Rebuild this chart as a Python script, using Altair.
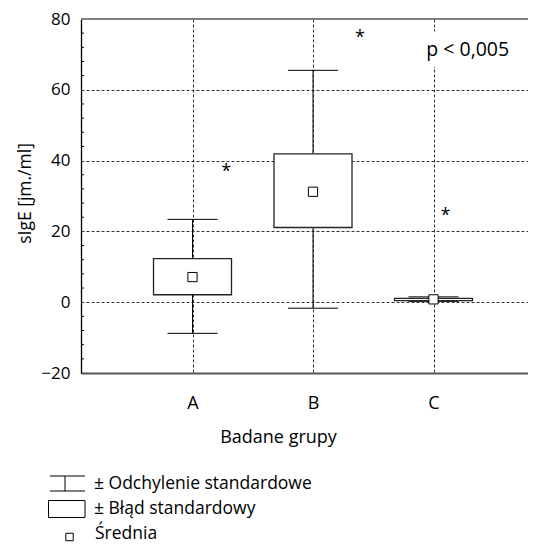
import altair as alt
import pandas as pd

# ---- data ----
groups = ["A", "B", "C"]
group_pos = [1, 2, 3]
mean = [7.1, 31.2, 0.8]
se_low = [2.1, 21.1, 0.45]
se_high = [12.3, 41.9, 1.1]
sd_low = [-8.8, -1.7, 0.25]
sd_high = [23.4, 65.5, 1.5]

star_x = [1.28, 2.39, 3.10]
star_y = [37.9, 75.8, 25.5]

y_ticks = [-20, 0, 20, 40, 60, 80]
y_minor = [v for v in range(-20, 81, 4) if v % 20 != 0]

p_text = "p < 0,005"
p_x, p_y = 2.94, 71.3

legend_labels = ["± Odchylenie standardowe", "± Błąd standardowy", "Średnia"]

# ---- layout constants ----
W, H = 447, 354
PX_GROUP = 120.5
x_min = 1 - 111.5 / PX_GROUP
x_max = x_min + W / PX_GROUP
CAP_HALF = 25 / PX_GROUP
BOX_HALF = 39 / PX_GROUP
FONT = "Open Sans"
FS = 18
LFS = 17.5

df = pd.DataFrame({
    "group": groups, "pos": group_pos, "mean": mean,
    "se_low": se_low, "se_high": se_high, "sd_low": sd_low, "sd_high": sd_high,
})
stars = pd.DataFrame({"x": star_x, "y": star_y})
minor = pd.DataFrame({"v": y_minor})
one = alt.Data(values=[{"k": 0}])

xs = alt.Scale(domain=[x_min, x_max], nice=False, zero=False)
ys = alt.Scale(domain=[-20, 80], nice=False, zero=False)

label_expr = "[" + ",".join("'%s'" % g for g in groups) + "][datum.value - 1]"

XAX = alt.Axis(
    values=group_pos, labelExpr=label_expr, grid=True, gridDash=[3, 2],
    gridColor="#333", gridWidth=1, ticks=False, labelPadding=21,
    labelFontSize=FS, labelFont=FONT, labelColor="black",
    domainColor="#555", domainWidth=2, title="Badane grupy",
    titleFont=FONT, titleFontSize=FS, titleFontWeight="normal", titleColor="black",
    titleX=197, titleY=64, titleAlign="center", titleBaseline="middle")
YAX = alt.Axis(
    values=y_ticks, grid=True, gridDash=[3, 2], gridColor="#333", gridWidth=1,
    ticks=False, labelPadding=11, labelFontSize=17, labelFont=FONT,
    labelColor="black", domainColor="black", domainWidth=1.3,
    title="sIgE [jm./ml]", titleFont=FONT, titleFontSize=17.5,
    titleFontWeight="normal", titleColor="black", titleX=-56, titleY=174,
    titleAngle=270, titleAlign="center", titleBaseline="middle")


def X(field):
    return alt.X(field, scale=xs, axis=XAX)


def Y(field):
    return alt.Y(field, scale=ys, axis=YAX)


base = alt.Chart(df).transform_calculate(
    cap_l=f"datum.pos - {CAP_HALF}", cap_r=f"datum.pos + {CAP_HALF}",
    box_l=f"datum.pos - {BOX_HALF}", box_r=f"datum.pos + {BOX_HALF}",
)

whisker = base.mark_rule(color="black", strokeWidth=1).encode(
    x=X("pos:Q"), y=Y("sd_low:Q"), y2="sd_high:Q")

cap_lo = base.mark_rule(color="black", strokeWidth=1).encode(
    x=X("cap_l:Q"), x2="cap_r:Q", y=Y("sd_low:Q"))
cap_hi = base.mark_rule(color="black", strokeWidth=1).encode(
    x=X("cap_l:Q"), x2="cap_r:Q", y=Y("sd_high:Q"))

box = base.mark_rect(fill="white", stroke="#222", strokeWidth=1.3).encode(
    x=X("box_l:Q"), x2="box_r:Q", y=Y("se_low:Q"), y2="se_high:Q")

means = base.mark_square(size=85, fill="white", stroke="black", strokeWidth=1, opacity=1).encode(
    x=X("pos:Q"), y=Y("mean:Q"))

minor_ticks = alt.Chart(minor).mark_rule(color="black", strokeWidth=1).encode(
    x=alt.value(0), x2=alt.value(3), y=Y("v:Q"))

star_marks = alt.Chart(stars).mark_text(text="*", font=FONT, fontSize=FS, color="black",
                                        baseline="middle", dy=4).encode(
    x=X("x:Q"), y=Y("y:Q"))

p_bg = alt.Chart(one).mark_rect(fill="white").encode(
    x=alt.X(datum=p_x - 0.05, scale=xs, axis=XAX), x2=alt.X2(datum=p_x + 0.82),
    y=alt.Y(datum=p_y - 4.8, scale=ys, axis=YAX), y2=alt.Y2(datum=p_y + 5.2))
p_label = alt.Chart(one).mark_text(text=p_text, font=FONT, fontSize=19.5, color="black",
                                   align="left", baseline="middle").encode(
    x=alt.X(datum=p_x, scale=xs, axis=XAX), y=alt.Y(datum=p_y, scale=ys, axis=YAX))

top_border = alt.Chart(one).mark_rule(color="#808080", strokeWidth=2).encode(
    x=alt.value(0), x2=alt.value(W), y=alt.value(0))

# ---- custom legend below the plot (pixel offsets from plot origin) ----
leg = []
leg.append(alt.Chart(one).mark_rule(color="black").encode(x=alt.value(-31), x2=alt.value(4), y=alt.value(457)))
leg.append(alt.Chart(one).mark_rule(color="black").encode(x=alt.value(-31), x2=alt.value(4), y=alt.value(472)))
leg.append(alt.Chart(one).mark_rule(color="black").encode(x=alt.value(-16), y=alt.value(457), y2=alt.value(472)))
leg.append(alt.Chart(one).mark_rect(fill="white", stroke="black", strokeWidth=1).encode(
    x=alt.value(-32.5), x2=alt.value(4), y=alt.value(481.5), y2=alt.value(498.5)))
leg.append(alt.Chart(one).mark_square(size=55, fill="white", stroke="black", strokeWidth=1, opacity=1).encode(
    x=alt.value(-11.5), y=alt.value(518)))
for lab, yy, xx in zip(legend_labels, [464.5, 490, 515], [13, 13, 14]):
    leg.append(alt.Chart(one).mark_text(text=lab, font=FONT, fontSize=LFS, color="black",
                                        align="left", baseline="middle").encode(
        x=alt.value(xx), y=alt.value(yy)))

chart = alt.layer(
    whisker, cap_lo, cap_hi, box, means, minor_ticks, star_marks, p_bg, p_label,
    top_border, *leg
).properties(
    width=W, height=H,
    autosize=alt.AutoSizeParams(type="none"),
    padding={"left": 73, "top": 11, "right": 0, "bottom": 173},
).configure_view(stroke=None).configure(font=FONT)

chart.save("out.html", embed_options={"renderer": "svg", "actions": False})
